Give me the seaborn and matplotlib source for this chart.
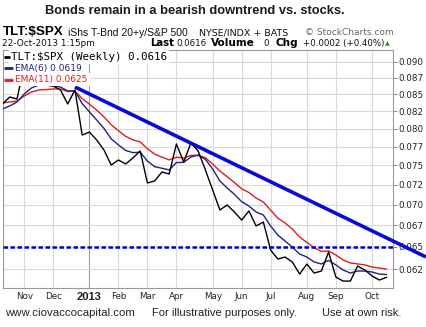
import matplotlib
matplotlib.use("Agg")
import matplotlib.pyplot as plt
import matplotlib.ticker as mticker
import pandas as pd
import seaborn as sns

# ---------------- data ----------------
week_start = "2012-10-15"
week_end = "2013-10-21"

ratio = [0.08353, 0.08456, 0.08426, 0.0893, 0.08805, 0.08636, 0.08636, 0.08621, 0.08561, 0.08353,
         0.08561, 0.07909, 0.07951, 0.0784, 0.07704, 0.07503, 0.0757, 0.07517, 0.07597, 0.0769,
         0.0727, 0.07296, 0.07412, 0.07386, 0.07786, 0.07543, 0.078, 0.0769, 0.07438, 0.07181,
         0.06933, 0.06994, 0.06909, 0.06812, 0.06921, 0.06741, 0.06788, 0.06462, 0.06361, 0.06383,
         0.06327, 0.06195, 0.06305, 0.06206, 0.06228, 0.06439, 0.06163, 0.06119, 0.06119, 0.06283,
         0.06239, 0.06174, 0.0613, 0.0616]
ema6 = [0.0828, 0.08324, 0.08382, 0.08501, 0.08591, 0.08636, 0.08636, 0.08621, 0.08606, 0.08546,
        0.08546, 0.08358, 0.08237, 0.08121, 0.08002, 0.07856, 0.07773, 0.07698, 0.07668, 0.07675,
        0.07556, 0.07481, 0.07461, 0.07439, 0.07536, 0.07538, 0.07611, 0.07634, 0.07578, 0.07451,
        0.07295, 0.07207, 0.07127, 0.07035, 0.06982, 0.06909, 0.06872, 0.0674, 0.06634, 0.06565,
        0.06495, 0.06417, 0.06383, 0.06328, 0.06306, 0.06345, 0.06295, 0.06239, 0.06206, 0.06228,
        0.06228, 0.06217, 0.06195, 0.0619]
ema11 = [0.08367, 0.08382, 0.08396, 0.08471, 0.08531, 0.08561, 0.08567, 0.08576, 0.08576, 0.08539,
         0.08542, 0.08432, 0.0835, 0.08263, 0.08166, 0.08053, 0.0797, 0.07891, 0.07842, 0.07815,
         0.07721, 0.07648, 0.07608, 0.07571, 0.07607, 0.07596, 0.0763, 0.07634, 0.076, 0.07516,
         0.07425, 0.07351, 0.07276, 0.07196, 0.0715, 0.0708, 0.0703, 0.06932, 0.06834, 0.06776,
         0.06705, 0.06611, 0.06549, 0.06489, 0.06447, 0.06451, 0.06406, 0.0635, 0.06317, 0.06306,
         0.06295, 0.06272, 0.06261, 0.0625]

month_ticks = ["2012-11-05", "2012-12-03", "2013-01-07", "2013-02-04", "2013-03-04", "2013-04-01",
               "2013-05-06", "2013-06-03", "2013-07-01", "2013-08-05", "2013-09-02", "2013-10-07"]
month_labels = ["Nov", "Dec", "2013", "Feb", "Mar", "Apr", "May", "Jun", "Jul", "Aug", "Sep", "Oct"]

y_ticks = [0.0625, 0.065, 0.0675, 0.07, 0.0725, 0.075, 0.0775, 0.08, 0.0825, 0.085, 0.0875, 0.09]
y_tick_labels = ["0.062", "0.065", "0.067", "0.070", "0.072", "0.075", "0.077", "0.080",
                 "0.082", "0.085", "0.087", "0.090"]

trend_dates = ["2012-12-24", "2013-11-28"]
trend_values = [0.08606, 0.06384]
support_level = 0.065

series_names = ["TLT:$SPX", "EMA(6)", "EMA(11)"]
legend_labels = ["TLT:$SPX (Weekly) 0.0616", "EMA(6) 0.0619", "EMA(11) 0.0625"]

# ---------------- build ----------------
dates = pd.date_range(week_start, week_end, freq="W-MON")
df = pd.DataFrame({"date": dates, series_names[0]: ratio,
                   series_names[1]: ema6, series_names[2]: ema11})
long = df.melt("date", var_name="series", value_name="value")

sns.set_style("white")
W, H = 427, 327
fig = plt.figure(figsize=(W / 100, H / 100), dpi=100)
fig.patch.set_facecolor("white")
L, R, T, B = 2.5, 393, 50, 288
ax = fig.add_axes([L / W, 1 - B / H, (R - L) / W, (B - T) / H])

palette = {"TLT:$SPX": "#000000", "EMA(6)": "#20208a", "EMA(11)": "#e31a1a"}
sns.lineplot(data=long, x="date", y="value", hue="series", palette=palette,
             hue_order=["EMA(11)", "EMA(6)", "TLT:$SPX"], linewidth=1.0,
             ax=ax, legend=False, zorder=3)

ax.set_yscale("log")
ax.set_ylim(0.06045, 0.09184)
ax.yaxis.set_major_locator(mticker.FixedLocator(y_ticks))
ax.yaxis.set_minor_locator(mticker.NullLocator())
ax.yaxis.set_major_formatter(mticker.FixedFormatter(y_tick_labels))
ax.yaxis.tick_right()

ax.set_xlim(pd.Timestamp("2012-10-18 06:00"), pd.Timestamp("2013-10-27 05:00"))
ax.set_xticks(pd.to_datetime(month_ticks))
ax.set_xticklabels(month_labels)
ax.set_xticks(dates, minor=True)
ax.set_xlabel("")
ax.set_ylabel("")

ax.grid(True, which="major", color="#d9d9d9", linewidth=0.8, zorder=0)
ax.set_axisbelow(True)
ax.get_xgridlines()[2].set_color("#a0a0a0")

ax.tick_params(axis="y", which="major", direction="out", length=3, width=0.7,
               color="#888888", labelsize=6.3, labelcolor="#222222", pad=1)
ax.tick_params(axis="x", which="major", length=0, labelsize=6.3, labelcolor="#222222", pad=3)
ax.tick_params(axis="x", which="minor", direction="in", length=2, width=0.6, color="#999999")
for lab in ax.get_yticklabels() + ax.get_xticklabels():
    lab.set_family("DejaVu Sans")
lab2013 = ax.get_xticklabels()[2]
lab2013.set_family("Liberation Sans")
lab2013.set_fontweight("bold")
lab2013.set_fontsize(8)

for s in ax.spines.values():
    s.set_color("#999999")
    s.set_linewidth(0.8)

# support and trend lines
ax.axhline(support_level, color="#0000cc", linewidth=1.8, linestyle=(0, (1.8, 1.0)), zorder=4)
ax.plot(pd.to_datetime(trend_dates), trend_values, color="#0a0ad8", linewidth=2.6,
        solid_capstyle="butt", clip_on=False, zorder=5)

# legend rows
def ax_xy(px, py):
    return (px - L) / (R - L), 1 - (py - T) / (B - T)

leg_rows = [(57, 4, 10, 11, "#000000", "DejaVu Sans Mono", 7.8),
            (68, 4, 13, 15, "#20208a", "DejaVu Sans", 6.5),
            (79.5, 4, 13, 15, "#e31a1a", "DejaVu Sans", 6.5)]
for (py, m0, m1, tx, col, fam, fs), lbl in zip(leg_rows, legend_labels):
    x0, y0 = ax_xy(tx, py)
    ax.text(x0, y0, lbl, transform=ax.transAxes, color=col, family=fam, fontsize=fs,
            va="center", ha="left", zorder=10,
            bbox=dict(facecolor="white", edgecolor="none", pad=1.6))
    xa, _ = ax_xy(m0, py)
    xb, _ = ax_xy(m1, py)
    ax.plot([xa, xb], [y0, y0], transform=ax.transAxes, color=col, lw=2.0,
            solid_capstyle="butt", zorder=11, clip_on=False)

# ---------------- header / footer ----------------
def ft(px, py, s, **kw):
    kw.setdefault("va", "center")
    kw.setdefault("ha", "left")
    fig.text(px / W, 1 - py / H, s, **kw)

ft(195, 11, "Bonds remain in a bearish downtrend vs. stocks.", ha="center",
   family="Liberation Sans", fontweight="bold", fontsize=9.3, color="#1a1a1a")
ft(3, 32, "TLT:$SPX", family="Liberation Sans", fontweight="bold", fontsize=9.6, color="#000000")
ft(68, 32.5, "iShs T-Bnd 20+y/S&P 500", family="Liberation Sans", fontsize=7.5, color="#111111")
ft(199, 32.5, "NYSE/INDX + BATS", family="DejaVu Sans", fontsize=6.8, color="#111111")
ft(305, 32.5, "\u00a9 StockCharts.com", family="DejaVu Sans", fontsize=6.5, color="#666666")
ft(2, 43.5, "22-Oct-2013 1:15pm", family="DejaVu Sans", fontsize=6.4, color="#111111")
ft(150, 43.5, "Last", family="DejaVu Sans", fontweight="bold", fontsize=7.3, color="#000000")
ft(176, 43.5, "0.0616", family="DejaVu Sans", fontsize=6.2, color="#111111")
ft(211, 43.5, "Volume", family="DejaVu Sans", fontweight="bold", fontsize=7.6, color="#000000")
ft(263, 43.5, "0", family="DejaVu Sans", fontsize=6.2, color="#111111")
ft(275, 43.5, "Chg", family="DejaVu Sans", fontweight="bold", fontsize=7.6, color="#000000")
ft(303, 43.5, "+0.0002 (+0.40%)", family="DejaVu Sans", fontsize=6.2, color="#111111")
ft(385, 43.5, "\u25b2", family="DejaVu Sans", fontsize=4.5, color="#2e8b2e")

ft(5, 313, "www.ciovaccocapital.com", family="Liberation Sans", fontsize=8.2, color="#222222")
ft(152, 313, "For illustrative purposes only.", family="Liberation Sans", fontsize=8.0, color="#222222")
ft(322, 313, "Use at own risk.", family="Liberation Sans", fontsize=8.0, color="#222222")

fig.savefig("out.png", dpi=100, facecolor="white")
